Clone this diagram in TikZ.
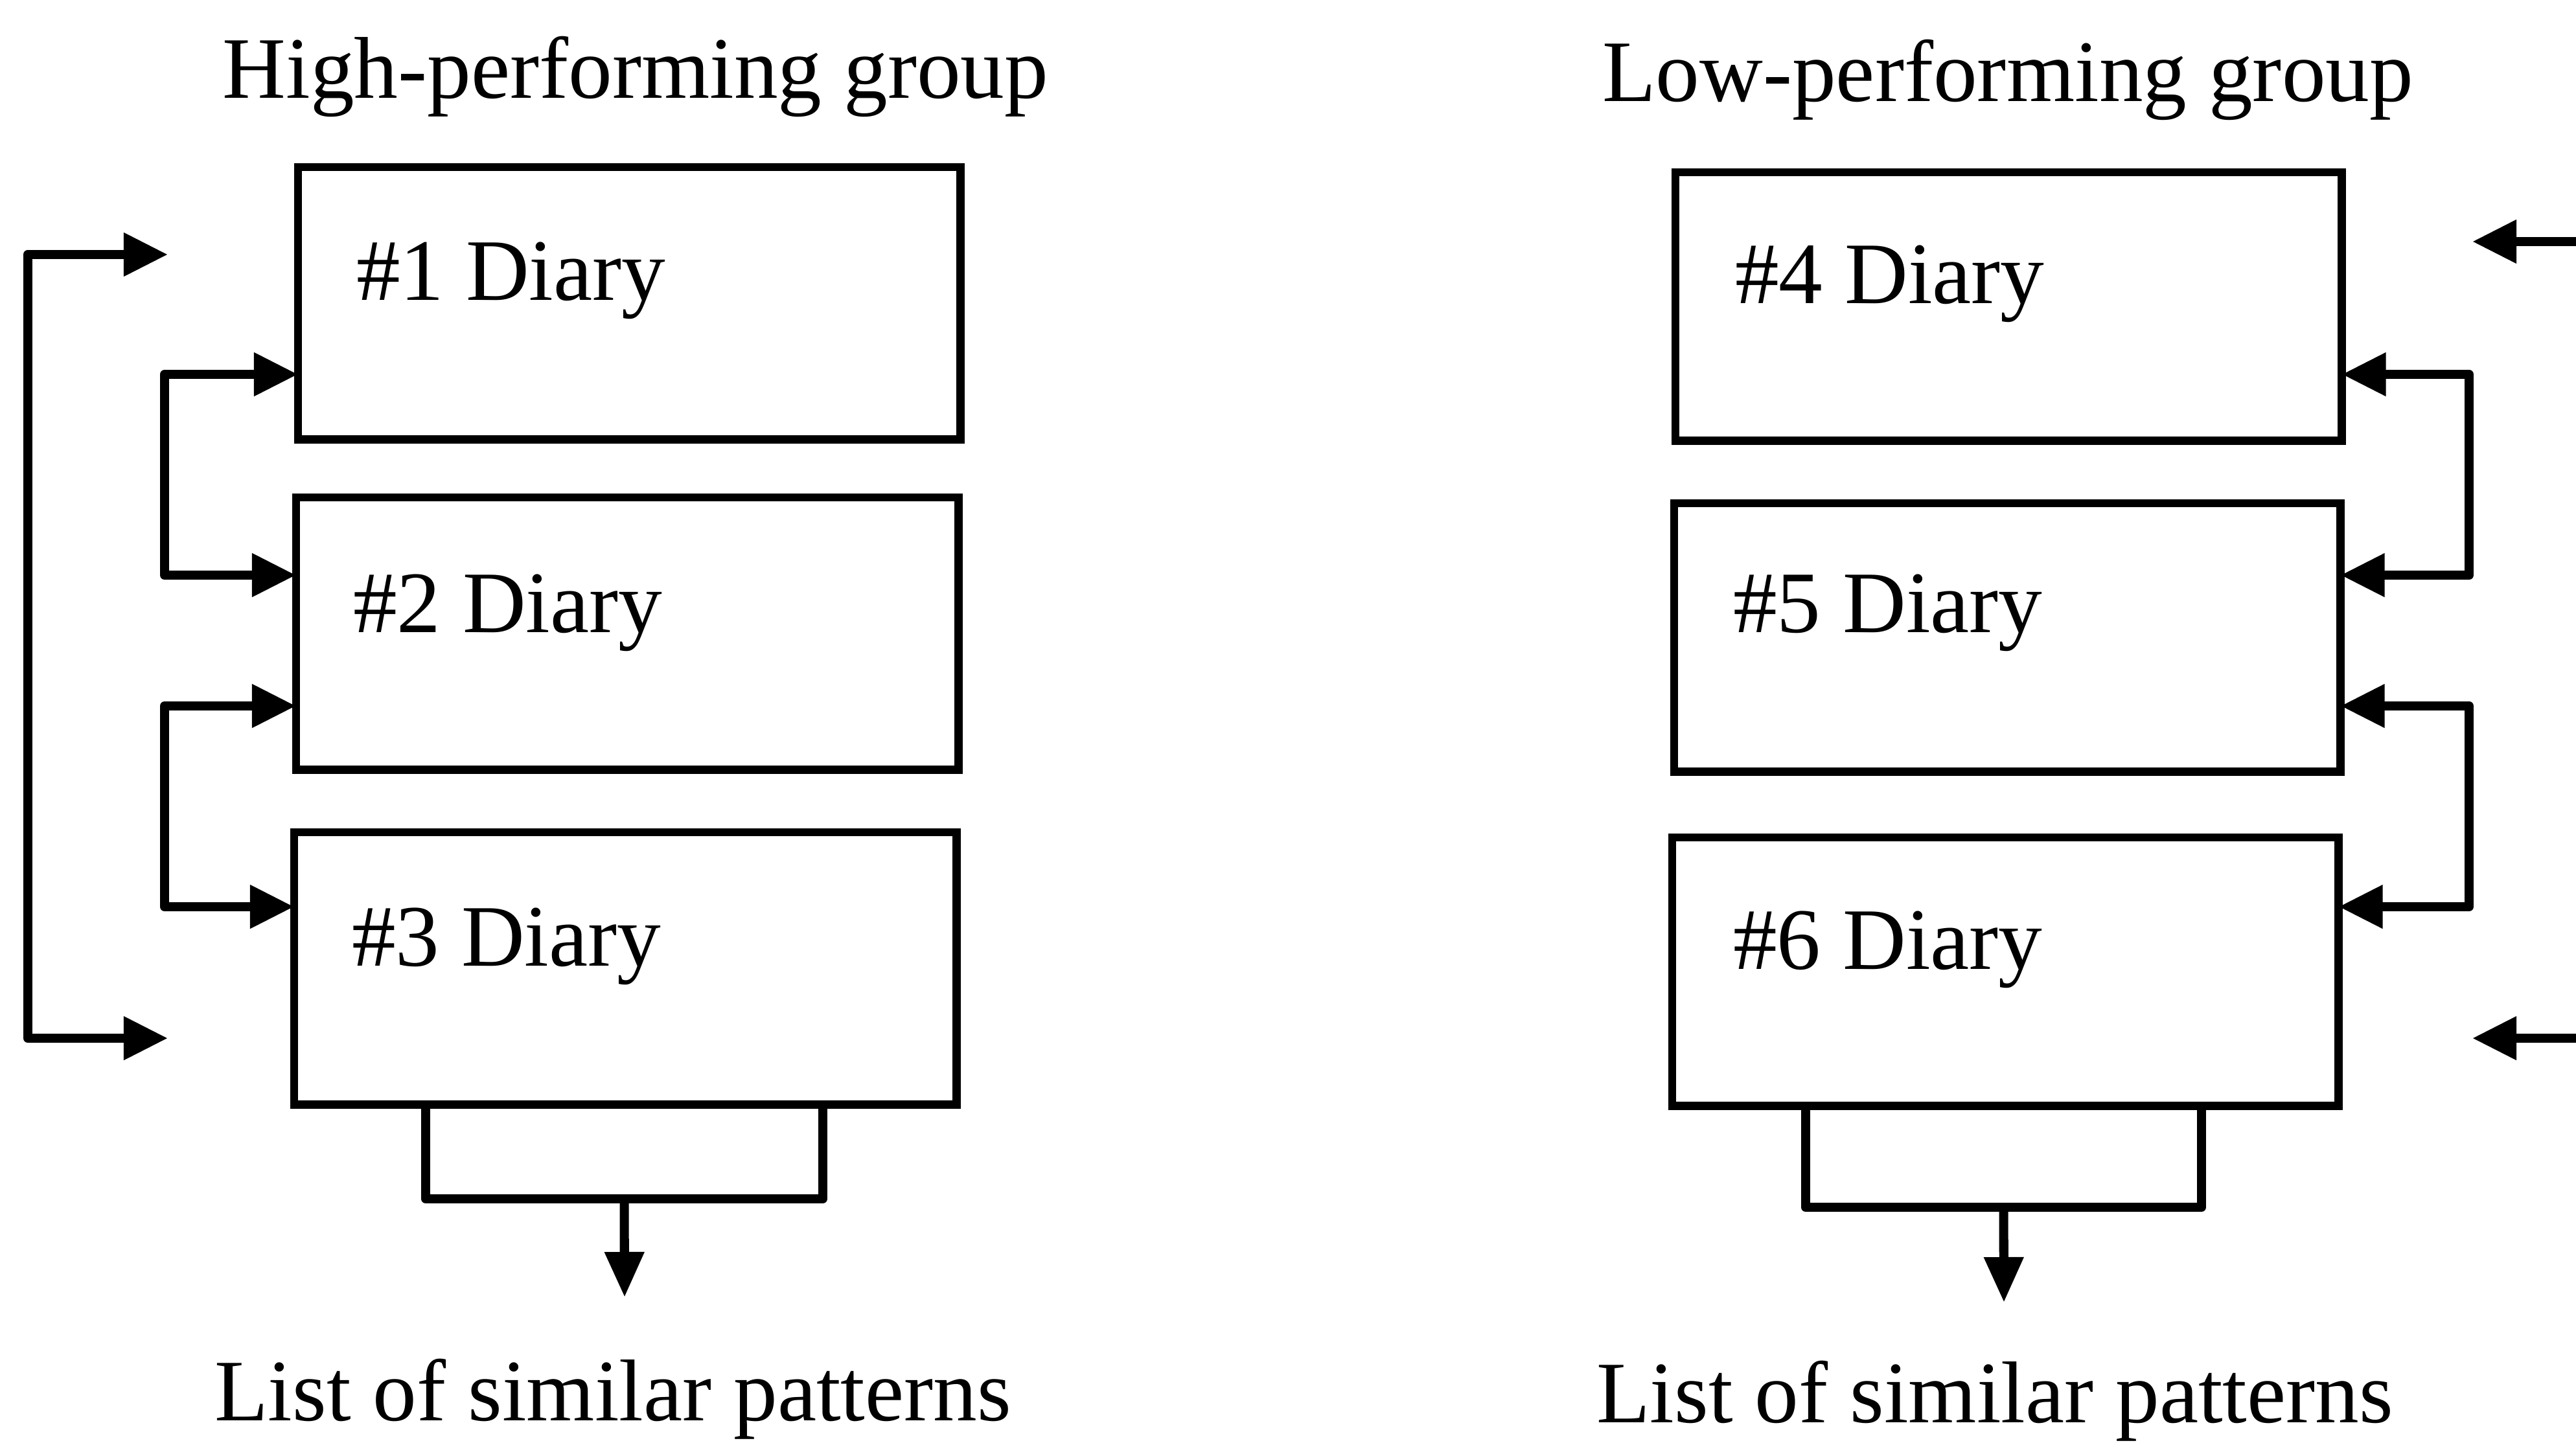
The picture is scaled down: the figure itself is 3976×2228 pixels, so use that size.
\documentclass[tikz,border=0pt]{standalone}
\usepackage{fontspec}
\setmainfont{Liberation Serif}
\usetikzlibrary{arrows.meta,calc}
\tikzset{
  diarybox/.style={draw, line width=3.6pt, inner sep=0pt, outer sep=0pt, anchor=north west},
  leftbox/.style={diarybox, minimum width=10.22cm, minimum height=4.2cm},
  rightbox/.style={diarybox, minimum width=10.28cm, minimum height=4.14cm},
  lbl/.style={font=\fontsize{38.5}{46}\selectfont, inner sep=0pt, outer sep=0pt},
  wire/.style={line width=4pt, line join=round},
  arr/.style={wire, -{Triangle[length=0.68cm, width=0.64cm]}},
  dbl/.style={wire, {Triangle[length=0.68cm, width=0.64cm]}-{Triangle[length=0.68cm, width=0.64cm]}},
  outarr/.style={wire, -{Triangle[length=0.7cm, width=0.58cm]}},
}
\begin{document}
\begin{tikzpicture}[x=0.01cm, y=-0.01cm]
\useasboundingbox (0,0) rectangle (3976,2228);

% group titles
\node[lbl, anchor=base] (tl) at (981,152) {High-performing group};
\node[lbl, anchor=base] (tr) at (3099,157) {Low-performing group};

% high-performing diaries
\node[leftbox] (b1) at (460,258) {};
\node[leftbox] (b2) at (457,768) {};
\node[leftbox] (b3) at (454,1285) {};
\node[lbl, anchor=base west] (t1) at (550,464) {\#1 Diary};
\node[lbl, anchor=base west] (t2) at (545,976) {\#2 Diary};
\node[lbl, anchor=base west] (t3) at (543,1491) {\#3 Diary};

% low-performing diaries
\node[rightbox] (b4) at (2586,266) {};
\node[rightbox] (b5) at (2584,777) {};
\node[rightbox] (b6) at (2581,1293) {};
\node[lbl, anchor=base west] (t4) at (2678,469) {\#4 Diary};
\node[lbl, anchor=base west] (t5) at (2675,976) {\#5 Diary};
\node[lbl, anchor=base west] (t6) at (2675,1496) {\#6 Diary};

% results
\node[lbl, anchor=base] (rl) at (946,2193) {List of similar patterns};
\node[lbl, anchor=base] (rr) at (3079,2196) {List of similar patterns};

% left-side links between neighbouring diaries
\coordinate (la) at (254,578);
\coordinate (lb) at (254,888);
\coordinate (lc) at (254,1090);
\coordinate (ld) at (254,1400);
\draw[dbl] (b1.west |- la) -- (la) -- (lb) -- (b2.west |- lb);
\draw[dbl] (b2.west |- lc) -- (lc) -- (ld) -- (b3.west |- ld);

% outer link between first and last diary
\coordinate (oa) at (43,393);
\coordinate (ob) at (43,1603);
\coordinate (oat) at (259,393);
\coordinate (obt) at (259,1603);
\draw[dbl] (oat) -- (oa) -- (ob) -- (obt);

% right-side links between neighbouring diaries
\coordinate (ra) at (3811,578);
\coordinate (rb) at (3811,888);
\coordinate (rc) at (3811,1090);
\coordinate (rd) at (3811,1400);
\draw[dbl] (b4.east |- ra) -- (ra) -- (rb) -- (b5.east |- rb);
\draw[dbl] (b5.east |- rc) -- (rc) -- (rd) -- (b6.east |- rd);

% outer link on the right, running off the edge
\coordinate (oc) at (4010,373);
\coordinate (od) at (4010,1603);
\coordinate (oct) at (3816,373);
\coordinate (odt) at (3816,1603);
\draw[arr] (oc) -- (oct);
\draw[arr] (od) -- (odt);

% collecting brackets and output arrows
\coordinate (lk1) at (657,1851);
\coordinate (lk2) at (1270,1851);
\coordinate (lkm) at ($(lk1)!0.5!(lk2)$);
\coordinate (lend) at (964,2003);
\draw[wire] (b3.south -| lk1) -- (lk1) -- (lk2) -- (b3.south -| lk2);
\draw[outarr] (lkm) -- (lend);

\coordinate (rk1) at (2787,1864);
\coordinate (rk2) at (3398,1864);
\coordinate (rkm) at ($(rk1)!0.5!(rk2)$);
\coordinate (rend) at (3093,2011);
\draw[wire] (b6.south -| rk1) -- (rk1) -- (rk2) -- (b6.south -| rk2);
\draw[outarr] (rkm) -- (rend);
\end{tikzpicture}
\end{document}
